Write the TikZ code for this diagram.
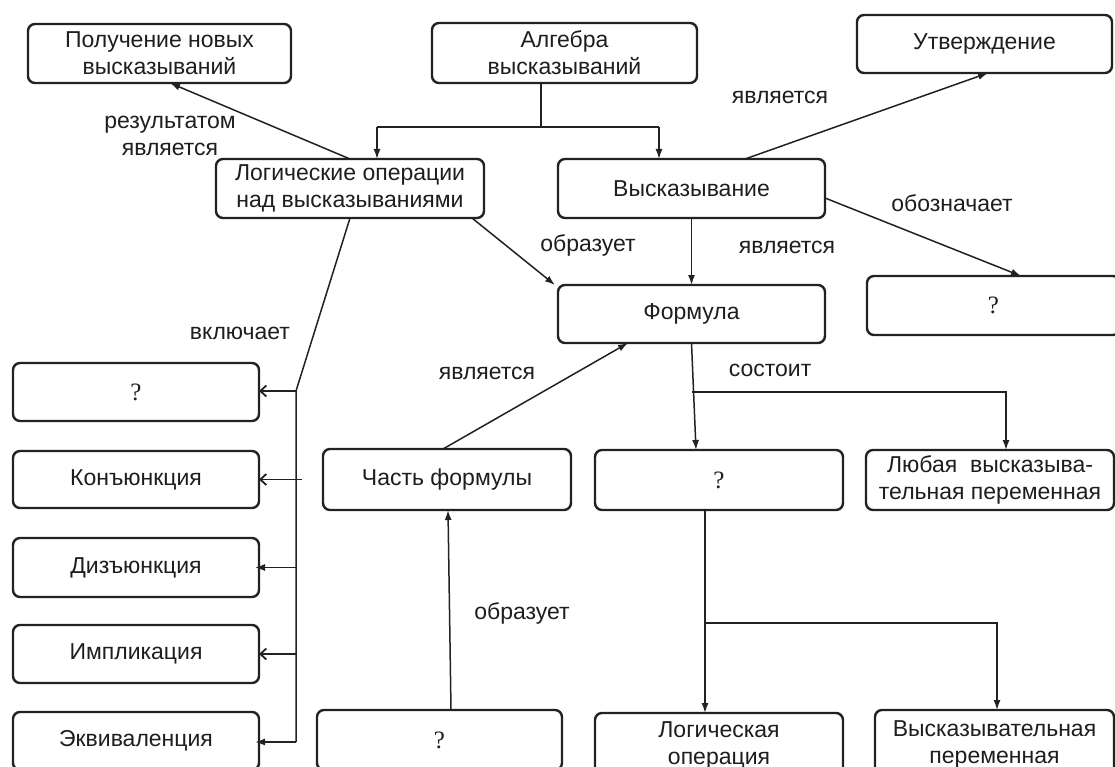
\documentclass[tikz,border=0pt]{standalone}
\usepackage{fontspec}
\setmainfont{Liberation Sans}
\newfontfamily\qfont{Liberation Serif}
\usetikzlibrary{arrows.meta,calc}
\definecolor{txt}{HTML}{1E1E1E}
\definecolor{ln}{HTML}{222222}
\begin{document}
\begin{tikzpicture}[x=1pt,y=-1pt,
  box/.style={draw=ln, line width=2.4pt, rounded corners=7pt, inner sep=0pt, outer sep=0pt,
    align=center, text=txt, font=\fontsize{23}{27}\selectfont},
  qbox/.style={box, font=\qfont\fontsize{25}{27}\selectfont},
  conn/.style={draw=ln, line width=1.5pt},
  arr/.style={conn, -{Latex[length=10pt,width=7pt]}},
  arrb/.style={conn, -{Straight Barb[length=6pt,width=11pt,line width=1.8pt]}},
  lbl/.style={text=txt, font=\fontsize{23}{27}\selectfont, align=center, inner sep=0pt}
]
\useasboundingbox (0,0) rectangle (1115,767);
\clip (0,0) rectangle (1115,767);
\fill[white] (0,0) rectangle (1115,767);

% boxes
\node[box, minimum width=263pt, minimum height=59pt] (pol) at (159.5,53.5) {Получение новых\\высказываний};
\node[box, minimum width=265pt, minimum height=60pt] (alg) at (564.5,53) {Алгебра\\высказываний};
\node[box, minimum width=255pt, minimum height=58pt] (utv) at (984.5,44) {Утверждение};
\node[box, minimum width=268pt, minimum height=59pt] (log) at (350,188.5) {Логические операции\\над высказываниями};
\node[box, minimum width=267pt, minimum height=59pt] (vys) at (691.5,188.5) {Высказывание};
\node[box, minimum width=267pt, minimum height=58pt] (form) at (691.5,314) {Формула};
\node[qbox, minimum width=253pt, minimum height=59pt] (qr) at (993.5,305.5) {?};
\node[qbox, minimum width=246pt, minimum height=58pt] (q1) at (136,392) {?};
\node[box, minimum width=246pt, minimum height=57pt] (kon) at (136,479.5) {Конъюнкция};
\node[box, minimum width=246pt, minimum height=59pt] (diz) at (136,567.5) {Дизъюнкция};
\node[box, minimum width=246pt, minimum height=58pt] (imp) at (136,654) {Импликация};
\node[box, minimum width=246pt, minimum height=58pt] (ekv) at (136,741) {Эквиваленция};
\node[box, minimum width=248pt, minimum height=61pt] (part) at (447,479.5) {Часть формулы};
\node[qbox, minimum width=248pt, minimum height=60pt] (qm) at (719,480) {?};
\node[box, minimum width=248pt, minimum height=60pt] (lub) at (990,480) {Любая\ \ высказыва-\\тельная переменная};
\node[qbox, minimum width=245pt, minimum height=60pt] (qb) at (439.5,740) {?};
\node[box, minimum width=248pt, minimum height=64pt] (lop) at (719,745) {Логическая\\операция};
\node[box, minimum width=239pt, minimum height=68pt] (vp) at (994.5,744) {Высказывательная\\переменная};

% labels
\node[lbl] (res) at (170,136) {результатом\\является};
\node[lbl] (l1) at (780,97) {является};
\node[lbl] (l2) at (952,203) {обозначает};
\node[lbl] (l3) at (787,247) {является};
\node[lbl] (l4) at (588,245) {образует};
\node[lbl] (l5) at (240,333) {включает};
\node[lbl] (l6) at (487,373) {является};
\node[lbl] (l7) at (522,613) {образует};
\node[lbl] (l8) at (770,370) {состоит};

% connectors from Algebra
\coordinate (a1) at (541,127);
\coordinate (a2) at (377,127);
\coordinate (a3) at (659,127);
\draw[conn] (a1 |- alg.south) -- (a1);
\draw[conn] (a2) -- (a3);
\draw[arr] (a2) -- (a2 |- log.north);
\draw[arr] (a3) -- (a3 |- vys.north);

\draw[arr] (log.north) -- ($(pol.south)+(10.5,0)$);
\draw[arr] ($(vys.north)+(53.5,0)$) -- ($(utv.south)+(3.5,0)$);
\draw[arr] ($(vys.east)+(0,9.5)$) -- ($(qr.north)+(27.5,0)$);
\draw[arr] (vys.south) -- (form.north);
\draw[arr] ($(log.south)+(122,0)$) -- ($(form.north west)+(-3,0)$);

% bus to operations
\coordinate (b0) at (296,391);
\coordinate (b1) at (296,742);
\draw[conn] (log.south) -- (b0) -- (b1);
\draw[arrb] (b0) -- (b0 -| q1.east);
\draw[arrb] ($(kon.east -| b0)+(6,0)$) -- (kon.east);
\draw[arr] (diz.east -| b0) -- ($(diz.east)+(-4,0)$);
\draw[arrb] (imp.east -| b0) -- (imp.east);
\draw[arr] (b1) -- ($(b1 -| ekv.east)+(-4,0)$);

% part of formula
\draw[arr] ($(part.north)+(-4,0)$) -- ($(form.south)+(-63.5,0)$);
\draw[arr] ($(qb.north)+(11.5,0)$) -- ($(part.south)+(1,0)$);

% formula consists
\coordinate (f1) at (692,392);
\coordinate (f2) at (1006,392);
\draw[arr] (form.south) -- ($(qm.north)+(-23,0)$);
\draw[arr] (f1) -- (f2) -- (f2 |- lub.north);

\coordinate (m1) at (705,623);
\coordinate (m2) at (997,623);
\draw[arr] (m1 |- qm.south) -- (m1 |- lop.north);
\draw[arr] (m1) -- (m2) -- (m2 |- vp.north);
\end{tikzpicture}
\end{document}
